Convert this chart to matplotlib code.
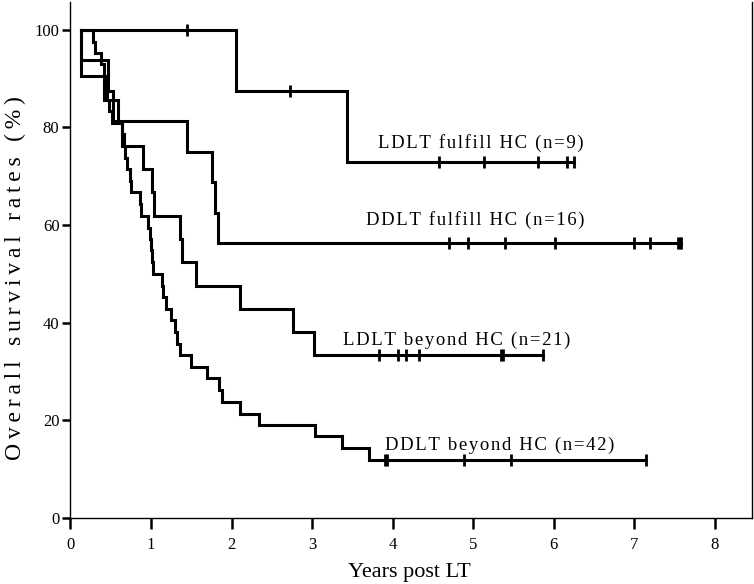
"""Kaplan-Meier style overall survival curves after LT."""

import matplotlib
matplotlib.use("Agg")
import matplotlib.pyplot as plt

# step points (years, survival %)
ldlt_ful_t = [0.13, 2.05, 3.43]
ldlt_ful_s = [100.0, 87.5, 72.9]
ldlt_ful_end = 6.25
ldlt_ful_cens = [1.45, 2.73, 4.58, 5.13, 5.80, 6.16, 6.25]

ddlt_ful_t = [0.13, 0.13, 0.47, 0.53, 1.45, 1.76, 1.79, 1.83]
ddlt_ful_s = [100.0, 93.75, 87.5, 81.25, 75.0, 68.75, 62.5, 56.25]
ddlt_ful_end = 7.58
ddlt_ful_cens = [4.70, 4.94, 5.39, 6.01, 6.99, 7.19, 7.54, 7.57, 7.58]

ldlt_bey_t = [0.13, 0.13, 0.41, 0.59, 0.64, 0.90, 1.01, 1.04, 1.36, 1.39,
              1.56, 2.11, 2.76, 3.02]
ldlt_bey_s = [100.0, 90.5, 85.7, 81.0, 76.2, 71.4, 66.7, 61.9, 57.1, 52.4,
              47.6, 42.9, 38.1, 33.3]
ldlt_bey_end = 5.87
ldlt_bey_cens = [3.83, 4.06, 4.16, 4.33, 5.35, 5.37, 5.87]

ddlt_bey_t = [0.13, 0.28, 0.31, 0.38, 0.42, 0.44, 0.45, 0.48, 0.52, 0.64,
              0.66, 0.68, 0.70, 0.74, 0.75, 0.86, 0.87, 0.96, 0.99, 1.00,
              1.01, 1.02, 1.13, 1.15, 1.18, 1.25, 1.30, 1.32, 1.36, 1.49,
              1.70, 1.84, 1.88, 2.11, 2.34, 3.04, 3.37, 3.70]
ddlt_bey_s = [100.0, 97.6, 95.2, 92.9, 90.5, 88.1, 85.7, 83.3, 81.0, 78.6,
              76.2, 73.8, 71.4, 69.0, 66.7, 64.3, 61.9, 59.5, 57.1, 54.8,
              52.4, 50.0, 47.6, 45.2, 42.9, 40.5, 38.1, 35.7, 33.3, 31.0,
              28.6, 26.2, 23.8, 21.4, 19.0, 16.7, 14.3, 11.9]
ddlt_bey_end = 7.15
ddlt_bey_cens = [3.90, 3.93, 4.89, 5.47, 7.15]

labels = ["LDLT fulfill HC (n=9)", "DDLT fulfill HC (n=16)",
          "LDLT beyond HC (n=21)", "DDLT beyond HC (n=42)"]
label_xy = [(3.815, 75.9), (3.67, 60.0), (3.38, 35.5), (3.90, 13.9)]

plt.rcParams["font.family"] = ["Liberation Serif", "DejaVu Serif"]

HAIR = "\u200a"
THIN = "\u2009"


def spaced(s, gap):
    # the original text is set with loose letter spacing
    return gap.join(s)


fig = plt.figure(figsize=(7.54, 5.84), dpi=100)
ax = fig.add_axes([0.0935, 0.113, 0.9038, 0.8836])

curves = [
    (ldlt_ful_t, ldlt_ful_s, ldlt_ful_end, ldlt_ful_cens),
    (ddlt_ful_t, ddlt_ful_s, ddlt_ful_end, ddlt_ful_cens),
    (ldlt_bey_t, ldlt_bey_s, ldlt_bey_end, ldlt_bey_cens),
    (ddlt_bey_t, ddlt_bey_s, ddlt_bey_end, ddlt_bey_cens),
]

for (t, s, end, cens), lab, (lx, ly) in zip(curves, labels, label_xy):
    xs = t + [end]
    ys = s + [s[-1]]
    ax.step(xs, ys, where="post", color="black", lw=2.2, solid_joinstyle="miter")
    # censor marks sit on the curve at their time
    cy = []
    for c in cens:
        val = s[0]
        for ti, si in zip(t, s):
            if ti <= c:
                val = si
        cy.append(val)
    ax.plot(cens, cy, ls="none", marker="|", ms=8, mew=2, color="black")
    ax.text(lx, ly, spaced(lab, HAIR), fontsize=13.5, va="baseline", ha="left")

ax.set_xlim(0, 8.46)
ax.set_ylim(0, 105.7)
ax.set_xticks(range(0, 9))
ax.set_yticks([0, 20, 40, 60, 80, 100])
ax.spines["top"].set_visible(False)
for sp in ("left", "right", "bottom"):
    ax.spines[sp].set_linewidth(1.0)
ax.tick_params(axis="x", direction="out", length=8, width=1.8, labelsize=12, pad=6)
ax.tick_params(axis="y", direction="out", length=6, width=1.8, labelsize=12, pad=2)

fig.text(409 / 754, 1 - 572 / 584, "Years post LT",
         fontsize=16, ha="center", va="center")
fig.text(15 / 754, 1 - 278 / 584, spaced("Overall survival rates (%)", THIN),
         fontsize=17, ha="center", va="center", rotation=90)

fig.savefig("out.png", dpi=100)
